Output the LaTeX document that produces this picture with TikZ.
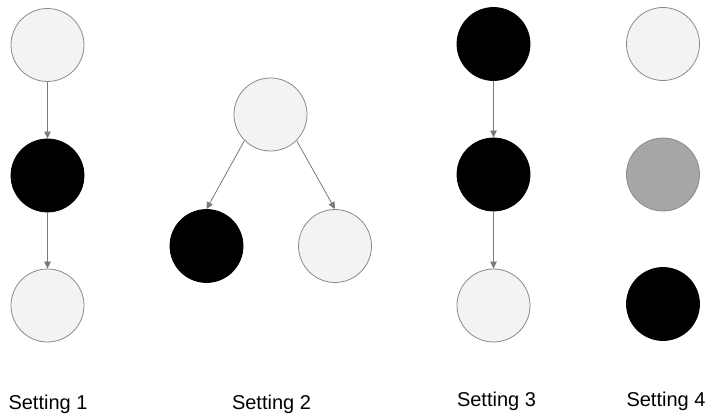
\documentclass[tikz,border=0pt]{standalone}
\usepackage{fontspec}
\setmainfont{Liberation Sans}
\usetikzlibrary{arrows.meta}
\definecolor{nodeline}{HTML}{8A8A8A}
\definecolor{lightfill}{HTML}{F3F3F3}
\definecolor{midfill}{HTML}{A6A6A6}
\definecolor{linkcol}{HTML}{7A7A7A}
\tikzset{
  var/.style={circle, draw=nodeline, line width=0.8pt, minimum size=73pt, inner sep=0pt},
  lightvar/.style={var, fill=lightfill},
  midvar/.style={var, fill=midfill},
  darkvar/.style={var, fill=black, draw=black},
  link/.style={draw=linkcol, line width=0.8pt, -{Triangle[length=7pt,width=6.5pt]}},
  caption/.style={anchor=base, font=\fontsize{20}{24}\selectfont}
}

\begin{document}
\begin{tikzpicture}[x=1pt,y=1pt]
\useasboundingbox (0,0) rectangle (707,-414);
% setting 1
\node[lightvar] (a1) at (47.5,-45) {};
\node[darkvar]  (a2) at (47.5,-175.5) {};
\node[lightvar] (a3) at (47.5,-305.5) {};
\draw[link] (a1) -- (a2);
\draw[link] (a2) -- (a3);
% setting 2
\node[lightvar] (b1) at (270.5,-114.5) {};
\node[darkvar]  (b2) at (206.5,-246) {};
\node[lightvar] (b3) at (335,-246) {};
\draw[link] (b1.south west) -- (b2.north);
\draw[link] (b1.south east) -- (b3.north);
% setting 3
\node[darkvar]  (c1) at (493.5,-44) {};
\node[darkvar]  (c2) at (493.5,-174.5) {};
\node[lightvar] (c3) at (493.5,-305.5) {};
\draw[link] (c1) -- (c2);
\draw[link] (c2) -- (c3);
% setting 4
\node[lightvar] (d1) at (663,-44) {};
\node[midvar]   (d2) at (663,-174.5) {};
\node[darkvar]  (d3) at (663,-304) {};
% captions
\node[caption] (t1) at (48,-409.5) {Setting 1};
\node[caption] (t2) at (271.5,-409.5) {Setting 2};
\node[caption] (t3) at (496.5,-406) {Setting 3};
\node[caption] (t4) at (666,-406) {Setting 4};
\end{tikzpicture}
\end{document}
